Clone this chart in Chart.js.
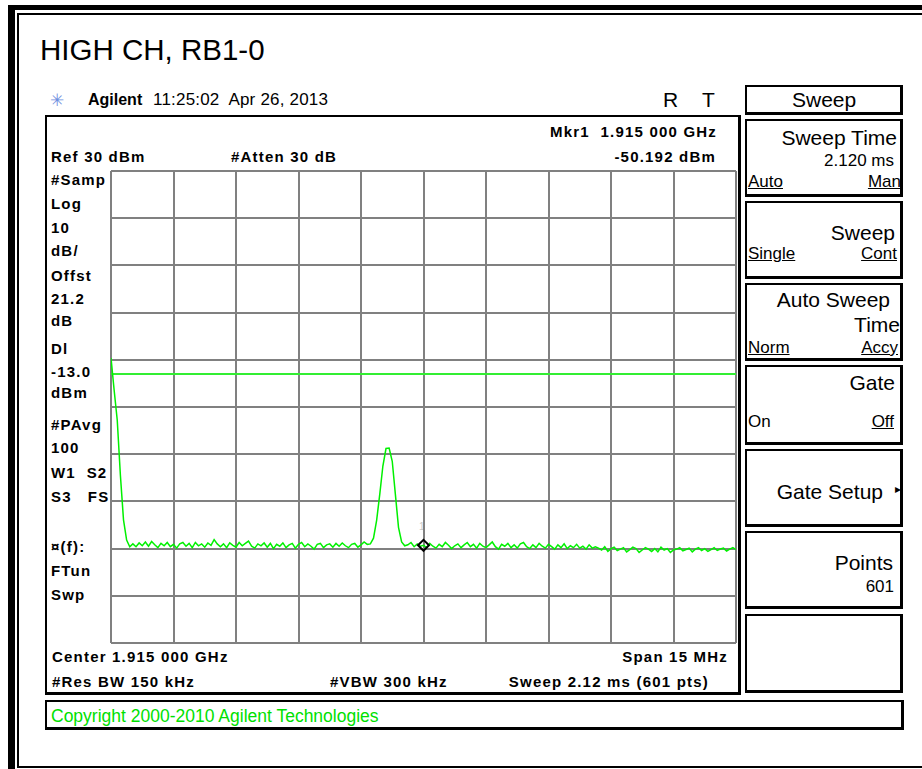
<!DOCTYPE html>
<html>
<head>
<meta charset="utf-8">
<script src="https://cdn.jsdelivr.net/npm/chart.js@4.4.1/dist/chart.umd.min.js"></script>
<style>
  html, body { margin: 0; padding: 0; background: #fff; }
  body { width: 922px; height: 769px; position: relative; overflow: hidden; font-family: 'Liberation Sans', Arial, sans-serif; }
  .blk { position: absolute; background: #000; }
  .box { position: absolute; box-sizing: border-box; border: 2px solid #000; border-right-width: 3px; border-bottom-width: 3px; background: #fff; }
  .t { position: absolute; white-space: pre; height: 20px; line-height: 20px; }
  .b { font-weight: bold; font-size: 15px; letter-spacing: 1.2px; color: #000; }
  .k { font-size: 21px; color: #000; }
  .s { font-size: 17px; color: #000; }
  .u { text-decoration: underline; }
  #chart { position: absolute; left: 0; top: 0; }
</style>
</head>
<body>
<!-- outer frame -->
<div class="blk" style="left:8px;top:5px;width:914px;height:5px"></div>
<div class="blk" style="left:8px;top:5px;width:7px;height:764px"></div>
<div class="blk" style="left:17px;top:13px;width:905px;height:2px"></div>
<div class="blk" style="left:17px;top:13px;width:2px;height:755px"></div>
<div class="blk" style="left:17px;top:766px;width:905px;height:2px"></div>

<!-- analyzer screen boxes -->
<div class="box" style="left:45px;top:115px;width:696px;height:580px"></div>
<div class="box" style="left:745px;top:85px;width:158px;height:30px"></div>
<div class="box" style="left:745px;top:119px;width:158px;height:78px"></div>
<div class="box" style="left:745px;top:201px;width:158px;height:78px"></div>
<div class="box" style="left:745px;top:283px;width:158px;height:78px"></div>
<div class="box" style="left:745px;top:365px;width:158px;height:80px"></div>
<div class="box" style="left:745px;top:449px;width:158px;height:78px"></div>
<div class="box" style="left:745px;top:531px;width:158px;height:78px"></div>
<div class="box" style="left:745px;top:614px;width:158px;height:79px"></div>
<div class="box" style="left:45px;top:700px;width:859px;height:30px"></div>

<div id="texts"></div>
<canvas id="chart" width="922" height="769"></canvas>

<script>
// sweep settings (MHz / dBm)
const CENTER_MHZ = 1915
const SPAN_MHZ = 15
const REF_DBM = 30
const DB_PER_DIV = 10
const DISPLAY_LINE = -13.0
const MARKER_FREQ = 1915
const MARKER_LEVEL = -49.3

// trace levels, one every 0.075 MHz from the left edge
const traceLevels = [
  -9.6, -16.4, -22.8, -34.4, -43.9, -48.2, -49.6,
  -49.0, -49.6, -48.8, -49.4, -48.6, -49.5, -48.5, -49.2, -49.8, -48.9,
  -49.4, -48.7, -49.6, -49.1, -49.9, -49.0, -48.7, -49.5, -48.9, -49.8,
  -48.7, -49.4, -49.0, -49.7, -48.8, -49.3, -48.1, -49.0, -49.6, -49.0,
  -49.8, -48.8, -49.3, -49.7, -48.7, -49.4, -48.9, -48.4, -49.5, -49.9,
  -49.0, -49.4, -48.8, -49.7, -48.9, -50.0, -49.1, -49.5, -48.8, -49.8,
  -49.2, -48.9, -49.9, -49.1, -48.7, -49.6, -49.0, -49.5, -50.1, -49.1,
  -48.9, -49.8, -49.2, -49.0, -49.7, -48.9, -49.5, -48.8, -49.4, -49.8,
  -49.1, -48.9, -49.7, -49.2, -48.6, -49.1,
  -49.0, -47.8, -44.0, -38.5, -32.5, -28.8, -28.7, -31.5, -38.5, -45.5, -48.6, -49.4,
  -49.2, -48.7, -49.6, -49.0, -49.5,
  -49.3,
  -49.8, -48.9, -49.5, -49.9, -49.1, -49.6, -48.7, -49.3, -50.0, -49.4,
  -49.0, -49.8, -49.2, -48.7, -49.6, -49.1, -49.9, -48.9, -49.5, -49.8,
  -49.2, -48.6, -49.6, -50.1, -49.1, -49.5, -48.9, -49.8, -49.2, -49.9,
  -49.0, -48.7, -49.6, -50.0, -49.2, -49.8, -48.9, -49.5, -49.9, -49.1,
  -49.6, -50.1, -49.2, -49.8, -49.0, -50.0, -49.4, -49.8, -49.1, -49.9,
  -49.5, -50.1, -49.2, -49.9, -49.6,
  -49.9, -50.3, -49.6, -50.6, -50.0, -49.7, -50.4, -50.1, -49.8, -50.7,
  -50.2, -49.7, -50.0, -50.8, -50.3, -49.8, -50.1, -50.6, -50.0, -50.7,
  -49.7, -50.3, -50.0, -50.8, -50.3, -50.1, -49.8, -50.5, -50.2, -49.9,
  -50.7, -50.1, -49.8, -50.4, -50.0, -50.6, -50.2, -49.8, -50.4, -50.1,
  -49.9, -50.5, -50.1, -49.8, -50.2
]

const START = CENTER_MHZ - SPAN_MHZ / 2
const STOP = CENTER_MHZ + SPAN_MHZ / 2
const STEP = SPAN_MHZ / (traceLevels.length - 1)
const trace = traceLevels.map((v, i) => ({ x: START + i * STEP, y: v }))

// screen annotations: [x, centerY, text, classes, align]
const labels = [
  [40, 50, 'HIGH CH, RB1-0', 'title', 'l'],
  [50, 100, '✳', 'logo', 'l'],
  [88, 100, 'Agilent', 'hdr hb', 'l'],
  [153, 100, '11:25:02  Apr 26, 2013', 'hdr', 'l'],
  [663, 100, 'R', 'k', 'l'],
  [702, 100, 'T', 'k', 'l'],
  [717, 132, 'Mkr1  1.915 000 GHz', 'b', 'r'],
  [51, 157, 'Ref 30 dBm', 'b', 'l'],
  [231, 157, '#Atten 30 dB', 'b', 'l'],
  [716, 157, '-50.192 dBm', 'b', 'r'],
  [51, 180, '#Samp', 'b', 'l'],
  [51, 204, 'Log', 'b', 'l'],
  [51, 228, '10', 'b', 'l'],
  [51, 251, 'dB/', 'b', 'l'],
  [51, 276, 'Offst', 'b', 'l'],
  [51, 299, '21.2', 'b', 'l'],
  [51, 321, 'dB', 'b', 'l'],
  [51, 349, 'Dl', 'b', 'l'],
  [51, 372, '-13.0', 'b', 'l'],
  [51, 393, 'dBm', 'b', 'l'],
  [51, 425, '#PAvg', 'b', 'l'],
  [51, 448, '100', 'b', 'l'],
  [51, 473, 'W1  S2', 'b', 'l'],
  [51, 497, 'S3   FS', 'b', 'l'],
  [51, 547, '¤(f):', 'b', 'l'],
  [51, 571, 'FTun', 'b', 'l'],
  [51, 595, 'Swp', 'b', 'l'],
  [52, 657, 'Center 1.915 000 GHz', 'b', 'l'],
  [728, 657, 'Span 15 MHz', 'b', 'r'],
  [52, 682, '#Res BW 150 kHz', 'b', 'l'],
  [330, 682, '#VBW 300 kHz', 'b', 'l'],
  [709, 682, 'Sweep 2.12 ms (601 pts)', 'b', 'r'],
  [824, 100, 'Sweep', 'k', 'c'],
  [897, 138, 'Sweep Time', 'k', 'r'],
  [894, 161, '2.120 ms', 's', 'r'],
  [748, 182, 'Auto', 's u', 'l'],
  [901, 182, 'Man', 's u', 'r'],
  [895, 233, 'Sweep', 'k', 'r'],
  [748, 254, 'Single', 's u', 'l'],
  [897, 254, 'Cont', 's u', 'r'],
  [890, 300, 'Auto Sweep', 'k', 'r'],
  [900, 325, 'Time', 'k', 'r'],
  [748, 348, 'Norm', 's u', 'l'],
  [898, 348, 'Accy', 's u', 'r'],
  [895, 383, 'Gate', 'k', 'r'],
  [748, 422, 'On', 's', 'l'],
  [894, 422, 'Off', 's u', 'r'],
  [883, 492, 'Gate Setup', 'k', 'r'],
  [901, 489, '▸', 'arrow', 'r'],
  [893, 563, 'Points', 'k', 'r'],
  [894, 587, '601', 's', 'r'],
  [51, 716, 'Copyright 2000-2010 Agilent Technologies', 'copy', 'l'],
  [422, 527, '1', 'mk', 'c']
]

const extra = document.createElement('style')
extra.textContent = `
  .title { font-size: 29.5px; color: #000; height: 36px !important; line-height: 36px !important; }
  .logo { font-family: 'DejaVu Sans', sans-serif; font-size: 17px; color: #6f8fe0; }
  .hdr { font-size: 17px; letter-spacing: 0.2px; color: #000; }
  .hb { font-weight: bold; letter-spacing: 0; font-size: 16px; }
  .arrow { font-family: 'DejaVu Sans', sans-serif; font-size: 12px; color: #000; }
  .copy { font-size: 17.5px; color: #00e000; }
  .mk { font-size: 10px; color: #c8c8c8; }
`
document.head.appendChild(extra)

const holder = document.getElementById('texts')
labels.forEach(([x, y, text, cls, align]) => {
  const d = document.createElement('div')
  d.className = 't ' + cls
  d.textContent = text
  document.body.insertBefore(d, holder)
  const h = d.offsetHeight
  d.style.top = (y - h / 2) + 'px'
  if (align === 'l') d.style.left = x + 'px'
  else if (align === 'r') d.style.right = (922 - x) + 'px'
  else d.style.left = (x - d.offsetWidth / 2) + 'px'
})

const gridOpts = { color: '#808080', lineWidth: 2, drawTicks: false }

new Chart(document.getElementById('chart'), {
  type: 'line',
  data: {
    datasets: [
      {
        label: 'Marker 1',
        data: [{ x: MARKER_FREQ, y: MARKER_LEVEL }],
        showLine: false,
        pointStyle: 'rectRot',
        pointRadius: 5.5,
        borderColor: '#000',
        borderWidth: 2,
        backgroundColor: 'rgba(0,0,0,0)'
      },
      {
        label: 'Trace',
        data: trace,
        borderColor: '#00f000',
        borderWidth: 1.5,
        pointRadius: 0,
        tension: 0
      },
      {
        label: 'Display line',
        data: [{ x: START, y: DISPLAY_LINE }, { x: STOP, y: DISPLAY_LINE }],
        borderColor: '#33ee33',
        borderWidth: 2,
        pointRadius: 0
      }
    ]
  },
  options: {
    responsive: false,
    animation: false,
    devicePixelRatio: 1,
    layout: { padding: { left: 111, top: 171, right: 186, bottom: 126 } },
    plugins: { legend: { display: false }, tooltip: { enabled: false } },
    scales: {
      x: {
        type: 'linear', min: START, max: STOP,
        ticks: { display: false, stepSize: SPAN_MHZ / 10 },
        grid: gridOpts, border: { display: false }
      },
      y: {
        min: REF_DBM - 10 * DB_PER_DIV, max: REF_DBM,
        ticks: { display: false, stepSize: DB_PER_DIV },
        grid: gridOpts, border: { display: false }
      }
    }
  }
})
</script>
</body>
</html>
